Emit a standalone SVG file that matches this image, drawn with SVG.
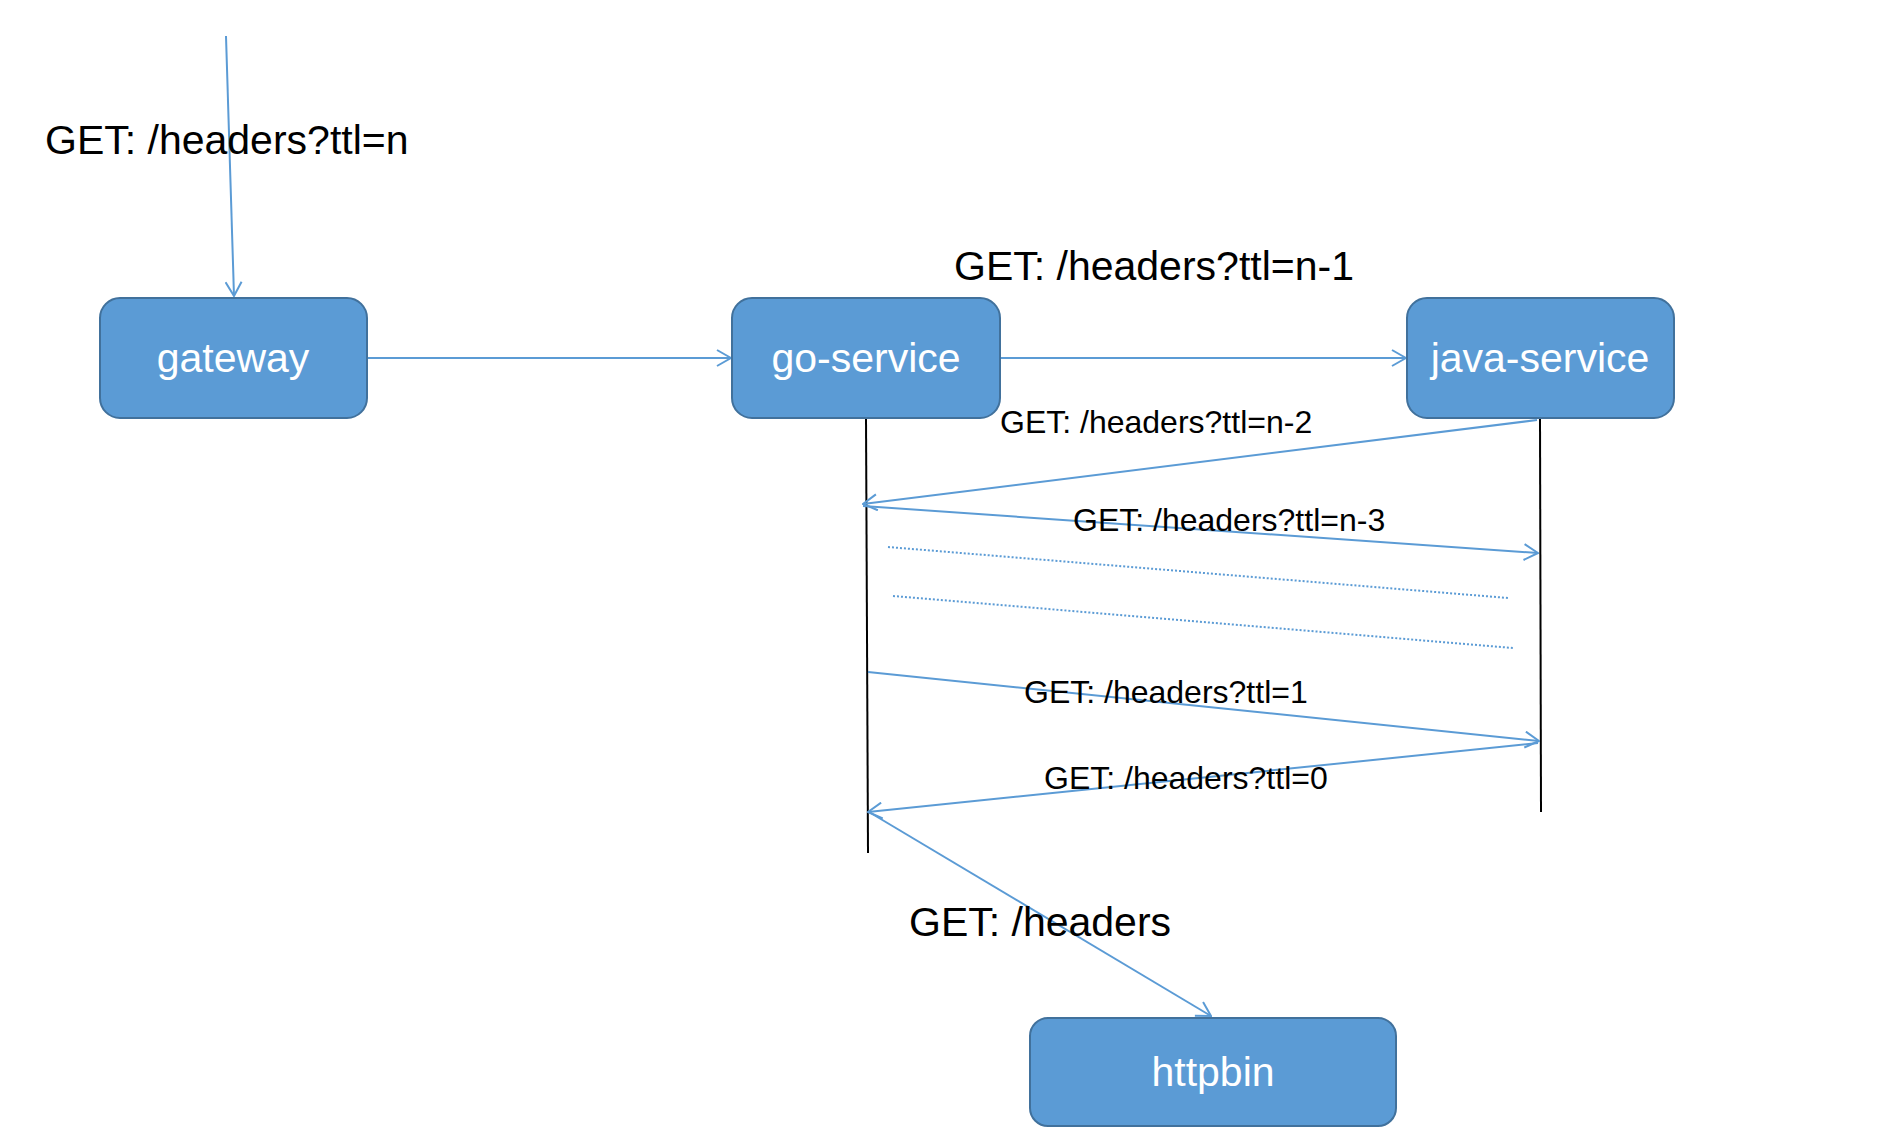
<svg xmlns="http://www.w3.org/2000/svg" width="1894" height="1142" viewBox="0 0 1894 1142">
<style>
.box{fill:#5B9BD5;stroke:#41719C;stroke-width:2}
.nt{font-family:"Liberation Sans",Arial,sans-serif;font-size:41px;fill:#fff;text-anchor:middle}
.lbl{font-family:"Liberation Sans",Arial,sans-serif;font-size:41px;fill:#000}
.sl{font-family:"Liberation Sans",Arial,sans-serif;font-size:32px;fill:#000}
.arr{stroke:#5B9BD5;stroke-width:2;fill:none;marker-end:url(#ah)}
.dot{stroke:#5B9BD5;stroke-width:2;fill:none;stroke-dasharray:2 2}
.life{stroke:#000;stroke-width:2;fill:none}
</style>
<defs>
<marker id="ah" viewBox="0 0 16 18" refX="15" refY="9" markerWidth="16" markerHeight="18" markerUnits="userSpaceOnUse" orient="auto">
<path d="M1,1 L15,9 L1,17" fill="none" stroke="#5B9BD5" stroke-width="2"/>
</marker>
</defs>
<rect width="1894" height="1142" fill="#fff"/>
<g id="connectors">
<line class="life" x1="866" y1="418" x2="868" y2="853"/>
<line class="life" x1="1540" y1="418" x2="1541" y2="812"/>
<line class="arr" x1="226" y1="36" x2="234" y2="296"/>
<line class="arr" x1="367" y1="358" x2="731" y2="358"/>
<line class="arr" x1="1000" y1="358" x2="1406" y2="358"/>
<line class="arr" x1="1537" y1="420" x2="863" y2="504"/>
<line class="arr" x1="863" y1="506" x2="1538" y2="553"/>
<line class="dot" x1="888" y1="547" x2="1508" y2="598"/>
<line class="dot" x1="893" y1="596" x2="1513" y2="648"/>
<line class="arr" x1="868" y1="672" x2="1539" y2="741"/>
<line class="arr" x1="1538" y1="743" x2="868" y2="812"/>
<line class="arr" x1="869" y1="812" x2="1211" y2="1016"/>
</g>
<g id="labels">
<text class="lbl" x="45" y="154">GET: /headers?ttl=n</text>
<text class="lbl" x="954" y="280">GET: /headers?ttl=n-1</text>
<text class="sl" x="1000" y="433">GET: /headers?ttl=n-2</text>
<text class="sl" x="1073" y="531">GET: /headers?ttl=n-3</text>
<text class="sl" x="1024" y="703">GET: /headers?ttl=1</text>
<text class="sl" x="1044" y="789">GET: /headers?ttl=0</text>
<text class="lbl" x="909" y="936">GET: /headers</text>
</g>
<g id="gateway">
<rect class="box" x="100" y="298" width="267" height="120" rx="20"/>
<text class="nt" x="233" y="372">gateway</text>
</g>
<g id="go-service">
<rect class="box" x="732" y="298" width="268" height="120" rx="20"/>
<text class="nt" x="866" y="372">go-service</text>
</g>
<g id="java-service">
<rect class="box" x="1407" y="298" width="267" height="120" rx="20"/>
<text class="nt" x="1540" y="372">java-service</text>
</g>
<g id="httpbin">
<rect class="box" x="1030" y="1018" width="366" height="108" rx="18"/>
<text class="nt" x="1213" y="1086">httpbin</text>
</g>
</svg>
